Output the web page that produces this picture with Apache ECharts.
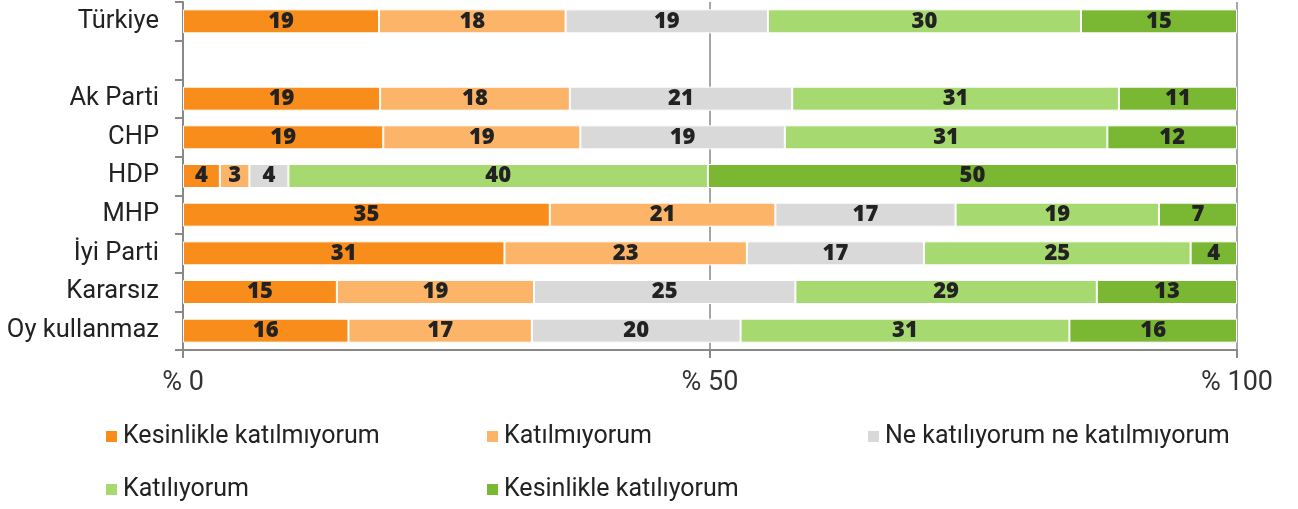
<!DOCTYPE html>
<html>
<head>
<meta charset="utf-8">
<script src="https://cdn.jsdelivr.net/npm/echarts@6/dist/echarts.min.js"></script>
<style>
  html, body { margin: 0; padding: 0; background: #fff; }
  #chart { width: 1298px; height: 509px; }
</style>
</head>
<body>
<div id="chart"></div>
<script>
// kategoriler (boş satır Türkiye ile partiler arasında)
const categories = ['Türkiye', '', 'Ak Parti', 'CHP', 'HDP', 'MHP', 'İyi Parti', 'Kararsız', 'Oy kullanmaz']
const seriesNames = ['Kesinlikle katılmıyorum', 'Katılmıyorum', 'Ne katılıyorum ne katılmıyorum', 'Katılıyorum', 'Kesinlikle katılıyorum']
const kesinlikleKatilmiyorum = [18.6, null, 18.7, 19.0, 3.5, 34.8, 30.5, 14.6, 15.7]
const katilmiyorum = [17.7, null, 18.0, 18.7, 2.8, 21.4, 23.0, 18.7, 17.4]
const kararsizim = [19.2, null, 21.1, 19.4, 3.7, 17.1, 16.8, 24.8, 19.8]
const katiliyorum = [29.7, null, 31.0, 30.6, 39.8, 19.3, 25.3, 28.6, 31.2]
const kesinlikleKatiliyorum = [14.8, null, 11.2, 12.3, 50.2, 7.4, 4.4, 13.3, 15.9]
const colors = ['#F88D1B', '#FBB468', '#D9D9D9', '#A7D971', '#7AB733']

const allData = [kesinlikleKatilmiyorum, katilmiyorum, kararsizim, katiliyorum, kesinlikleKatiliyorum]

const chart = echarts.init(document.getElementById('chart'))

const option = {
  animation: false,
  grid: { left: 183, right: 61, top: 2, bottom: 159 },
  legend: {
    left: 104,
    top: 415,
    padding: 0,
    width: 1180,
    itemWidth: 13,
    itemHeight: 13,
    itemGap: 10,
    icon: 'rect',
    data: seriesNames,
    textStyle: {
      fontFamily: 'Roboto',
      fontSize: 25,
      color: '#222',
      width: 352,
      lineHeight: 43
    }
  },
  xAxis: {
    type: 'value',
    min: 0,
    max: 100,
    interval: 50,
    axisLine: { show: true, lineStyle: { color: '#888', width: 2 } },
    axisTick: { show: true, length: 8, lineStyle: { color: '#888', width: 2 } },
    splitLine: { show: true, lineStyle: { color: '#888', width: 1.5 } },
    axisLabel: {
      margin: 20,
      fontFamily: 'Roboto',
      fontSize: 27,
      color: '#333',
      formatter: (v) => '% ' + v
    }
  },
  yAxis: {
    type: 'category',
    inverse: true,
    data: categories,
    axisLine: { show: true, lineStyle: { color: '#888', width: 2 } },
    axisTick: { show: true, length: 8, lineStyle: { color: '#888', width: 2 } },
    axisLabel: {
      margin: 24,
      fontFamily: 'Roboto',
      fontSize: 25.5,
      color: '#222'
    }
  },
  series: seriesNames.map((name, i) => ({
    name: name,
    type: 'bar',
    stack: 'toplam',
    barWidth: 24,
    itemStyle: { color: colors[i], borderColor: '#fff', borderWidth: 1 },
    label: {
      show: true,
      position: 'inside',
      color: '#222',
      fontFamily: 'Open Sans',
      fontWeight: 800,
      fontSize: 22,
      formatter: (p) => p.value == null ? '' : Math.round(p.value)
    },
    data: allData[i]
  }))
}

chart.setOption(option)
</script>
</body>
</html>
